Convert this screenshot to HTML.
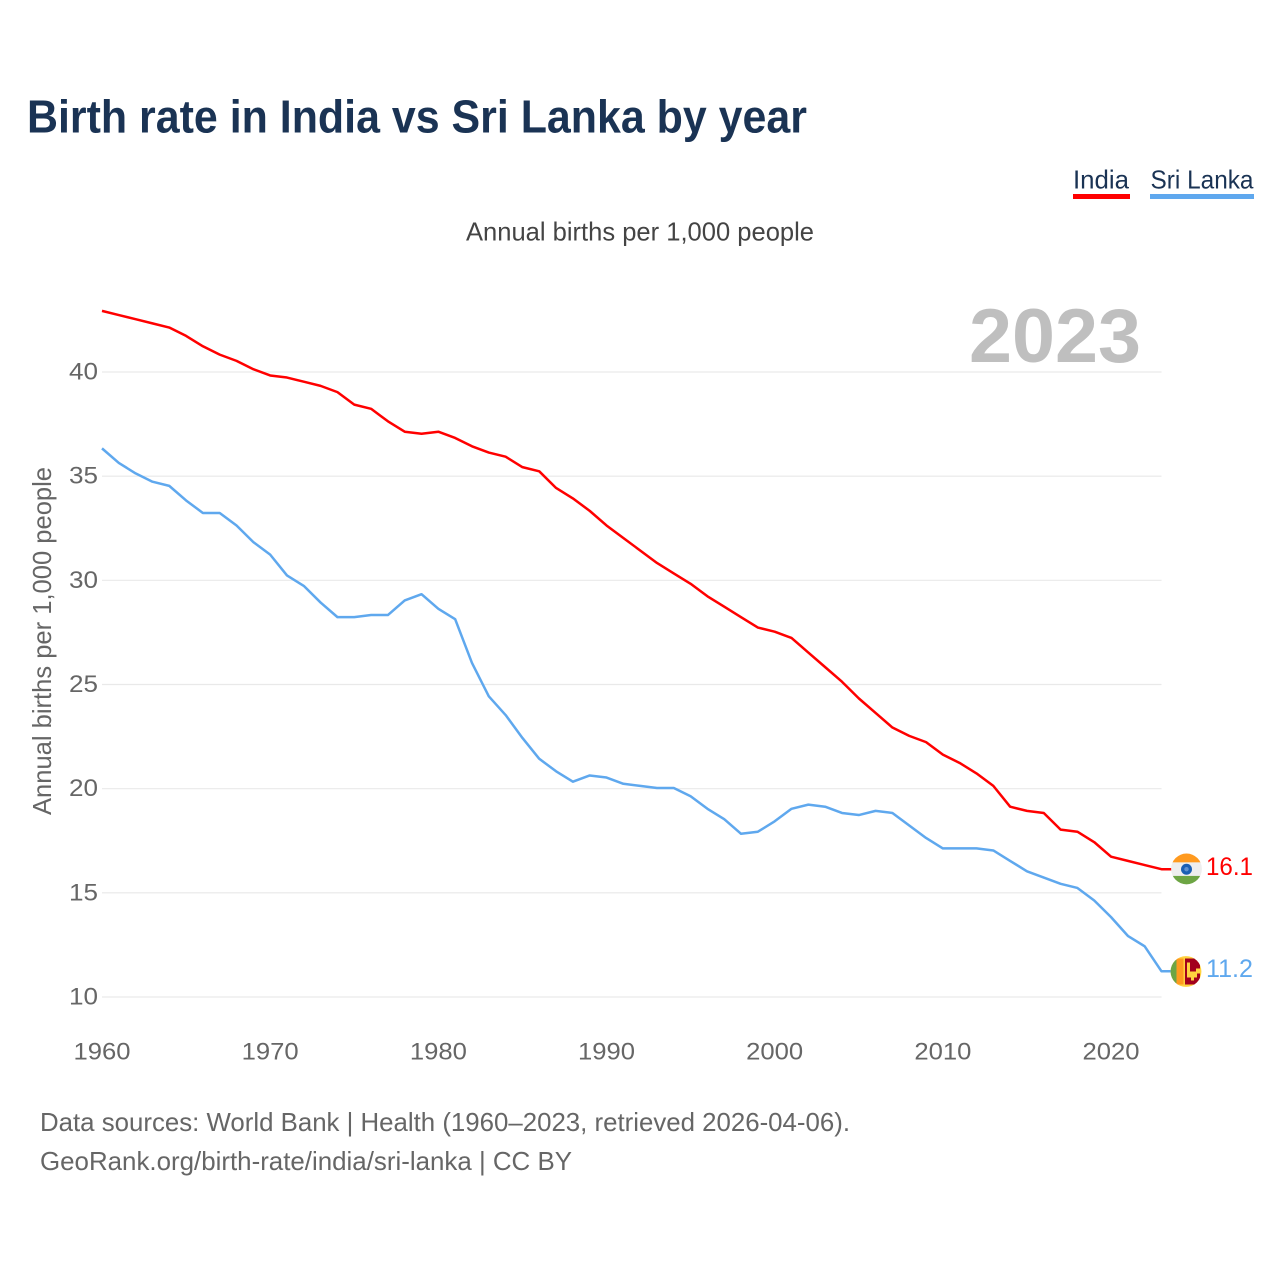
<!DOCTYPE html>
<html lang="en">
<head>
<meta charset="utf-8">
<title>Birth rate in India vs Sri Lanka by year</title>
<style>
html,body{margin:0;padding:0;background:#fff;}
svg{display:block;font-family:"Liberation Sans",sans-serif;}
</style>
</head>
<body>
<svg id="chart" width="1280" height="1280" viewBox="0 0 1280 1280" xmlns="http://www.w3.org/2000/svg">
  <rect width="1280" height="1280" fill="#fff"/>
  <text x="27" y="132.5" font-size="46" font-weight="700" fill="#1a3354" textLength="780" lengthAdjust="spacingAndGlyphs">Birth rate in India vs Sri Lanka by year</text>
  <g>
    <g>
      <text x="1073" y="188.5" font-size="26" fill="#1a3354" textLength="56" lengthAdjust="spacingAndGlyphs">India</text>
      <rect x="1073" y="194" width="57" height="5" fill="#ff0000"/>
    </g>
    <g>
      <text x="1150.5" y="188.5" font-size="26" fill="#1a3354" textLength="103" lengthAdjust="spacingAndGlyphs">Sri Lanka</text>
      <rect x="1150" y="194" width="104" height="5" fill="#5fa8ee"/>
    </g>
  </g>
  <text x="466" y="240.5" font-size="26" fill="#444" textLength="348" lengthAdjust="spacingAndGlyphs">Annual births per 1,000 people</text>
  <text x="969" y="362" font-size="76" font-weight="700" fill="#bfbfbf" textLength="172" lengthAdjust="spacingAndGlyphs">2023</text>
  <text transform="translate(51,815) rotate(-90)" x="0" y="0" font-size="26" fill="#666" textLength="348" lengthAdjust="spacingAndGlyphs">Annual births per 1,000 people</text>
  <g id="grid"></g>
  <g id="yticks"></g>
  <g id="xticks"></g>
  <g id="lines" transform="translate(0,-0.7)"></g>
  <defs>
    <clipPath id="clip-in"><circle cx="0" cy="0" r="15.4"/></clipPath>
    <clipPath id="clip-lk"><circle cx="0" cy="0" r="15.4"/></clipPath>
  </defs>
  <g id="flag-india">
    <g clip-path="url(#clip-in)">
      <rect x="-16" y="-16" width="32" height="9.5" fill="#ff9a1f"/>
      <rect x="-16" y="-6.5" width="32" height="13.5" fill="#eeeeee"/>
      <rect x="-16" y="7" width="32" height="9" fill="#6da544"/>
      <circle cx="0" cy="0.3" r="5.5" fill="#1a5fb4"/>
      <circle cx="0" cy="0.3" r="2.2" fill="#5f90d0"/>
    </g>
  </g>
  <g id="flag-lk">
    <g clip-path="url(#clip-lk)">
      <rect x="-16" y="-16" width="32" height="32" fill="#ffd23f"/>
      <rect x="-16" y="-13" width="6.5" height="26" fill="#6da544"/>
      <rect x="-9.5" y="-13" width="7" height="26" fill="#ff9a1f"/>
      <rect x="-1" y="-13" width="15" height="26" fill="#a2001d"/>
      <path d="M1-9h3v9h6v-3h4v5h-3v4H8v3H5V6H1z" fill="#ffd23f"/>
    </g>
  </g>
  <text id="value-india" x="1206" font-size="25" fill="#ff0000" textLength="47" lengthAdjust="spacingAndGlyphs"></text>
  <text id="value-lk" x="1206" font-size="25" fill="#5fa8ee" textLength="47" lengthAdjust="spacingAndGlyphs"></text>
  <text x="40" y="1131" font-size="26" fill="#666" textLength="810" lengthAdjust="spacingAndGlyphs">Data sources: World Bank | Health (1960–2023, retrieved 2026-04-06).</text>
  <text x="40" y="1170" font-size="26" fill="#666" textLength="532" lengthAdjust="spacingAndGlyphs">GeoRank.org/birth-rate/india/sri-lanka | CC BY</text>
</svg>
<script>
const startYear = 1960;
const endYear = 2023;
const yTickValues = [10, 15, 20, 25, 30, 35, 40];
const xTickValues = [1960, 1970, 1980, 1990, 2000, 2010, 2020];
const indiaValues = [42.9,42.7,42.5,42.3,42.1,41.7,41.2,40.8,40.5,40.1,
  39.8,39.7,39.5,39.3,39.0,38.4,38.2,37.6,37.1,37.0,
  37.1,36.8,36.4,36.1,35.9,35.4,35.2,34.4,33.9,33.3,
  32.6,32.0,31.4,30.8,30.3,29.8,29.2,28.7,28.2,27.7,
  27.5,27.2,26.5,25.8,25.1,24.3,23.6,22.9,22.5,22.2,
  21.6,21.2,20.7,20.1,19.1,18.9,18.8,18.0,17.9,17.4,
  16.7,16.5,16.3,16.1];
const sriLankaValues = [36.3,35.6,35.1,34.7,34.5,33.8,33.2,33.2,32.6,31.8,
  31.2,30.2,29.7,28.9,28.2,28.2,28.3,28.3,29.0,29.3,
  28.6,28.1,26.0,24.4,23.5,22.4,21.4,20.8,20.3,20.6,
  20.5,20.2,20.1,20.0,20.0,19.6,19.0,18.5,17.8,17.9,
  18.4,19.0,19.2,19.1,18.8,18.7,18.9,18.8,18.2,17.6,
  17.1,17.1,17.1,17.0,16.5,16.0,15.7,15.4,15.2,14.6,
  13.8,12.9,12.4,11.2];

const NS = 'http://www.w3.org/2000/svg';
function xScale(year) { return 102 + (year - startYear) * (1161.5 - 102) / (endYear - startYear); }
function yScale(v) { return 997 - (v - 10) * (997 - 372) / 30; }
function make(tag, attrs) {
  const el = document.createElementNS(NS, tag);
  for (const k in attrs) el.setAttribute(k, attrs[k]);
  return el;
}
const grid = document.getElementById('grid');
const yticks = document.getElementById('yticks');
const xticks = document.getElementById('xticks');
const lines = document.getElementById('lines');

yTickValues.forEach(function (v) {
  const line = make('line', {x1: 102, x2: 1161.5, y1: yScale(v), y2: yScale(v), stroke: '#e9e9e9', 'stroke-width': 1.2});
  
  
  grid.appendChild(line);
  const t = make('text', {x: 98, y: yScale(v) + 7.5, 'text-anchor': 'end', 'font-size': 24, fill: '#666', textLength: 29, lengthAdjust: 'spacingAndGlyphs'});
  
  
  t.textContent = String(v);
  yticks.appendChild(t);
});
xTickValues.forEach(function (y) {
  const t = make('text', {x: xScale(y), y: 1059.5, 'text-anchor': 'middle', 'font-size': 24, fill: '#666', textLength: 57, lengthAdjust: 'spacingAndGlyphs'});
  
  
  t.textContent = String(y);
  xticks.appendChild(t);
});
function drawSeries(values, color) {
  const last = values[values.length - 1];
  const pts = values.map(function (v, i) { return xScale(startYear + i).toFixed(2) + ',' + yScale(v).toFixed(2); });
  pts.push('1172,' + yScale(last).toFixed(2));
  return make('polyline', {points: pts.join(' '), fill: 'none', stroke: color, 'stroke-width': 2.5, 'stroke-linejoin': 'round'});
}
const indiaLine = drawSeries(indiaValues, '#ff0000');


lines.appendChild(indiaLine);
const lkLine = drawSeries(sriLankaValues, '#5fa8ee');


lines.appendChild(lkLine);

const indiaLast = indiaValues[indiaValues.length - 1];
const lkLast = sriLankaValues[sriLankaValues.length - 1];
document.getElementById('flag-india').setAttribute('transform', 'translate(1186.5,' + (yScale(indiaLast) - 1) + ')');
document.getElementById('flag-lk').setAttribute('transform', 'translate(1186,' + (yScale(lkLast) - 0.5) + ')');
const vi = document.getElementById('value-india');
vi.setAttribute('y', yScale(indiaLast) + 5);
vi.textContent = indiaLast.toFixed(1);
const vl = document.getElementById('value-lk');
vl.setAttribute('y', yScale(lkLast) + 5);
vl.textContent = lkLast.toFixed(1);
</script>
</body>
</html>
